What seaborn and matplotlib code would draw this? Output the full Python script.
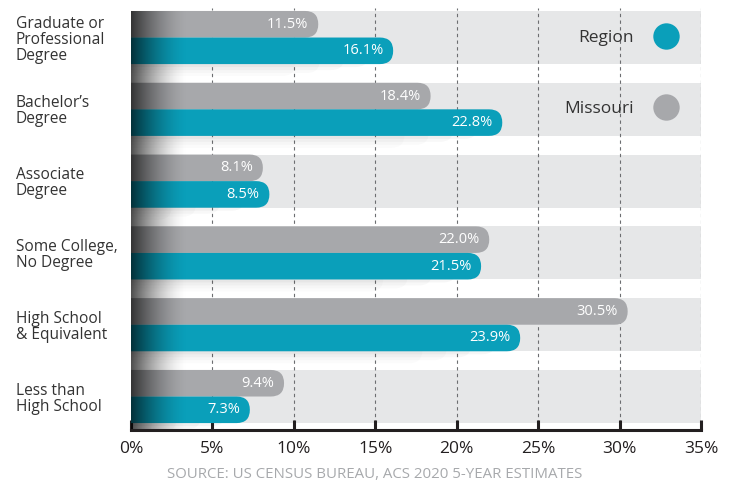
import numpy as np
import pandas as pd
import seaborn as sns
import matplotlib.pyplot as plt
from matplotlib.patches import FancyBboxPatch
from matplotlib.lines import Line2D

categories = ["Graduate or\nProfessional\nDegree", "Bachelor’s\nDegree", "Associate\nDegree",
              "Some College,\nNo Degree", "High School\n& Equivalent", "Less than\nHigh School"]
missouri = [11.5, 18.4, 8.1, 22.0, 30.5, 9.4]
region = [16.1, 22.8, 8.5, 21.5, 23.9, 7.3]
x_ticks = [0, 5, 10, 15, 20, 25, 30, 35]
source = "SOURCE: US CENSUS BUREAU, ACS 2020 5-YEAR ESTIMATES"

TEAL = "#0a9fba"
GREY = "#a7a8ab"
BAND = "#e6e7e8"
INK = "#231f20"

df = pd.DataFrame({"Education": categories * 2,
                   "Share": missouri + region,
                   "Area": ["Missouri"] * len(missouri) + ["Region"] * len(region)})

sns.set_theme(style="white")
plt.rcParams["font.family"] = ["Open Sans", "DejaVu Sans"]

fig = plt.figure(figsize=(7.37, 4.83), dpi=100)
ax = fig.add_axes([0.1777, 0.1097, 0.7734, 0.8737])

sns.barplot(data=df, x="Share", y="Education", hue="Area", hue_order=["Missouri", "Region"],
            palette={"Missouri": GREY, "Region": TEAL}, saturation=1, width=0.74, orient="h",
            errorbar=None, legend=False, ax=ax)

ax.set_xlim(0, 35)
ax.set_ylim(5.4666, -0.411)

# pixels per data unit, used to keep the bar caps round
px_x = 570 / 35
px_y = 71.8

# background bands behind each category
for i in range(len(categories)):
    ax.axhspan(i - 0.37, i + 0.37, color=BAND, lw=0, zorder=0.2)

# swap seaborn's rectangles for pill shaped bars
for k, cont in enumerate(ax.containers):
    for bar in cont:
        x0, y0 = bar.get_x(), bar.get_y()
        w, h = bar.get_width(), abs(bar.get_height())
        r = h * px_y / 2 / px_x
        bar.set_visible(False)
        pill = FancyBboxPatch((x0 - 2 * r, y0), w + 2 * r, h,
                              boxstyle=f"round,pad=0,rounding_size={r}",
                              mutation_aspect=h / (2 * r),
                              fc=bar.get_facecolor(), lw=0, zorder=2)
        ax.add_patch(pill)
        if k == 1:
            # soft shadow under the teal bars
            for j, a in enumerate([0.035, 0.028, 0.02, 0.014]):
                dy = (3 + 3 * j) / px_y
                sh = FancyBboxPatch((x0 - 2 * r, y0 + dy), w + 2 * r - 1.5 * (j + 1), h,
                                    boxstyle=f"round,pad=0,rounding_size={r}",
                                    mutation_aspect=h / (2 * r),
                                    fc="black", alpha=a, lw=0, zorder=1.5)
                ax.add_patch(sh)

# dark shading on the left edge
t = np.linspace(0, 1, 256)
img = np.zeros((1, 256, 4))
img[..., 3] = 0.7 * (1 - t) ** 1.6
ax.imshow(img, extent=(0, 3.5, 5.45, -0.37), aspect="auto", interpolation="bicubic", zorder=2.5)
ax.set_xlim(0, 35)
ax.set_ylim(5.4666, -0.411)

for cont in ax.containers:
    labels = ax.bar_label(cont, fmt="%.1f%%", padding=-7, color="white", fontsize=10.5)
    for lab in labels:
        lab.set_ha("right")
        lab.set_zorder(4)

# grid, axis and ticks
ax.set_axisbelow(True)
ax.grid(axis="x", linestyle=(0, (3, 3)), color="#6d6e71", linewidth=0.8)
ax.set_xticks(x_ticks)
ax.set_xticklabels([f"{v}%" for v in x_ticks])
ax.xaxis.get_major_ticks()[0].gridline.set_visible(False)
ax.xaxis.get_major_ticks()[0].tick1line.set_visible(False)
sns.despine(ax=ax, left=True)
ax.spines["bottom"].set_linewidth(2.2)
ax.spines["bottom"].set_color(INK)
ax.tick_params(axis="x", bottom=True, direction="in", length=7, width=2.2, color=INK,
               labelsize=12.5, labelcolor=INK, pad=8)
ax.tick_params(axis="y", length=0, pad=83, labelsize=11.2, labelcolor="#333333")
for lab in ax.get_yticklabels():
    lab.set_ha("left")
    lab.set_linespacing(1.0)
ax.set_xlabel("")
ax.set_ylabel("")

handles = [Line2D([], [], marker="o", ls="", markersize=19, markerfacecolor=TEAL, markeredgewidth=0),
           Line2D([], [], marker="o", ls="", markersize=19, markerfacecolor=GREY, markeredgewidth=0)]
leg = ax.legend(handles, ["Region", "Missouri"], loc="upper right", bbox_to_anchor=(0.955, 0.948),
                frameon=False, markerfirst=False, labelspacing=3.15, handletextpad=1.3,
                handlelength=1.1, fontsize=12.5, borderpad=0, borderaxespad=0)
for txt in leg.get_texts():
    txt.set_color("#333333")

fig.text(0.508, 1 / 483, source, ha="center", va="bottom", fontsize=10.8, color="#a7a9ac")

fig.savefig("out.png", dpi=100)
